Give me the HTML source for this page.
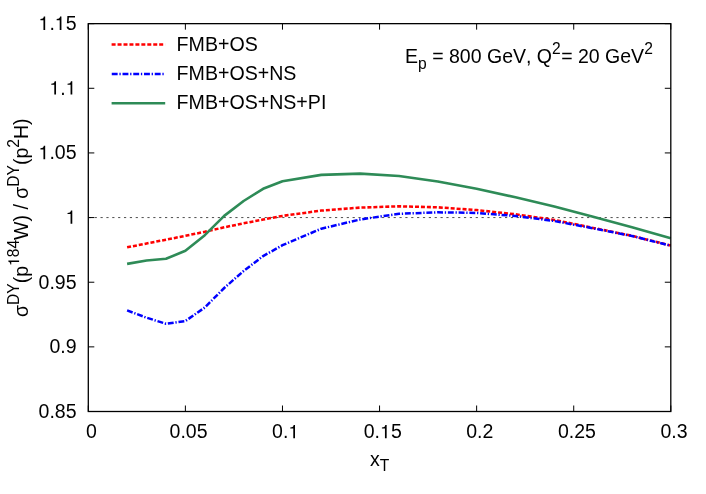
<!DOCTYPE html>
<html><head><meta charset="utf-8"><title>plot</title>
<style>
html,body{margin:0;padding:0;background:#fff;}
svg{display:block;will-change:transform;}
text{font-family:"Liberation Sans",sans-serif;fill:#000;font-kerning:none;white-space:pre;}
</style></head><body>
<svg width="706" height="494" viewBox="0 0 706 494">
<rect x="0" y="0" width="706" height="494" fill="#fff"/>
<line x1="88.3" y1="217.57" x2="670.8" y2="217.57" stroke="#000" stroke-width="0.7" stroke-dasharray="2.2 3.662" stroke-dashoffset="-0.5"/>
<line x1="88.30" y1="411.5" x2="88.30" y2="405.5" stroke="#000" stroke-width="1"/><line x1="88.30" y1="23.65" x2="88.30" y2="29.65" stroke="#000" stroke-width="1"/>
<line x1="88.3" y1="411.50" x2="94.3" y2="411.50" stroke="#000" stroke-width="1"/><line x1="670.8" y1="411.50" x2="664.8" y2="411.50" stroke="#000" stroke-width="1"/>
<line x1="185.38" y1="411.5" x2="185.38" y2="405.5" stroke="#000" stroke-width="1"/><line x1="185.38" y1="23.65" x2="185.38" y2="29.65" stroke="#000" stroke-width="1"/>
<line x1="88.3" y1="346.86" x2="94.3" y2="346.86" stroke="#000" stroke-width="1"/><line x1="670.8" y1="346.86" x2="664.8" y2="346.86" stroke="#000" stroke-width="1"/>
<line x1="282.47" y1="411.5" x2="282.47" y2="405.5" stroke="#000" stroke-width="1"/><line x1="282.47" y1="23.65" x2="282.47" y2="29.65" stroke="#000" stroke-width="1"/>
<line x1="88.3" y1="282.22" x2="94.3" y2="282.22" stroke="#000" stroke-width="1"/><line x1="670.8" y1="282.22" x2="664.8" y2="282.22" stroke="#000" stroke-width="1"/>
<line x1="379.55" y1="411.5" x2="379.55" y2="405.5" stroke="#000" stroke-width="1"/><line x1="379.55" y1="23.65" x2="379.55" y2="29.65" stroke="#000" stroke-width="1"/>
<line x1="88.3" y1="217.57" x2="94.3" y2="217.57" stroke="#000" stroke-width="1"/><line x1="670.8" y1="217.57" x2="664.8" y2="217.57" stroke="#000" stroke-width="1"/>
<line x1="476.63" y1="411.5" x2="476.63" y2="405.5" stroke="#000" stroke-width="1"/><line x1="476.63" y1="23.65" x2="476.63" y2="29.65" stroke="#000" stroke-width="1"/>
<line x1="88.3" y1="152.93" x2="94.3" y2="152.93" stroke="#000" stroke-width="1"/><line x1="670.8" y1="152.93" x2="664.8" y2="152.93" stroke="#000" stroke-width="1"/>
<line x1="573.72" y1="411.5" x2="573.72" y2="405.5" stroke="#000" stroke-width="1"/><line x1="573.72" y1="23.65" x2="573.72" y2="29.65" stroke="#000" stroke-width="1"/>
<line x1="88.3" y1="88.29" x2="94.3" y2="88.29" stroke="#000" stroke-width="1"/><line x1="670.8" y1="88.29" x2="664.8" y2="88.29" stroke="#000" stroke-width="1"/>
<line x1="670.80" y1="411.5" x2="670.80" y2="405.5" stroke="#000" stroke-width="1"/><line x1="670.80" y1="23.65" x2="670.80" y2="29.65" stroke="#000" stroke-width="1"/>
<line x1="88.3" y1="23.65" x2="94.3" y2="23.65" stroke="#000" stroke-width="1"/><line x1="670.8" y1="23.65" x2="664.8" y2="23.65" stroke="#000" stroke-width="1"/>
<text x="86.08" y="438.30" font-size="19.5">0</text>
<text x="169.61" y="438.30" font-size="19.5">0.05</text>
<text x="272.11" y="438.30" font-size="19.5">0.</text><path transform="translate(288.38,438.30) scale(0.01950,-0.01950)" d="M339.8 0H251.5V503H96V559C195 561 252 592 271 688H339.8Z" fill="#000"/>
<text x="363.77" y="438.30" font-size="19.5">0.</text><path transform="translate(380.04,438.30) scale(0.01950,-0.01950)" d="M339.8 0H251.5V503H96V559C195 561 252 592 271 688H339.8Z" fill="#000"/><text x="390.88" y="438.30" font-size="19.5">5</text>
<text x="466.28" y="438.30" font-size="19.5">0.2</text>
<text x="557.94" y="438.30" font-size="19.5">0.25</text>
<text x="660.45" y="438.30" font-size="19.5">0.3</text>
<text x="38.55" y="417.80" font-size="19.5">0.85</text>
<text x="49.39" y="353.16" font-size="19.5">0.9</text>
<text x="38.55" y="288.52" font-size="19.5">0.95</text>
<path transform="translate(65.66,223.87) scale(0.01950,-0.01950)" d="M339.8 0H251.5V503H96V559C195 561 252 592 271 688H339.8Z" fill="#000"/>
<path transform="translate(38.55,159.23) scale(0.01950,-0.01950)" d="M339.8 0H251.5V503H96V559C195 561 252 592 271 688H339.8Z" fill="#000"/><text x="49.39" y="159.23" font-size="19.5">.05</text>
<path transform="translate(49.39,94.59) scale(0.01950,-0.01950)" d="M339.8 0H251.5V503H96V559C195 561 252 592 271 688H339.8Z" fill="#000"/><text x="60.24" y="94.59" font-size="19.5">.</text><path transform="translate(65.66,94.59) scale(0.01950,-0.01950)" d="M339.8 0H251.5V503H96V559C195 561 252 592 271 688H339.8Z" fill="#000"/>
<path transform="translate(38.55,29.95) scale(0.01950,-0.01950)" d="M339.8 0H251.5V503H96V559C195 561 252 592 271 688H339.8Z" fill="#000"/><text x="49.39" y="29.95" font-size="19.5">.</text><path transform="translate(54.81,29.95) scale(0.01950,-0.01950)" d="M339.8 0H251.5V503H96V559C195 561 252 592 271 688H339.8Z" fill="#000"/><text x="65.66" y="29.95" font-size="19.5">5</text>
<polyline points="127.1,247.3 146.6,243.5 166.0,239.7 185.4,235.8 204.8,231.8 224.2,227.3 243.6,223.3 263.1,219.6 282.5,215.9 321.3,210.6 360.1,207.6 399.0,206.3 437.8,207.3 476.6,210.1 515.5,214.3 554.3,219.9 593.1,227.9 632.0,235.8 670.8,245.6" fill="none" stroke="#ff0000" stroke-width="2.55" stroke-dasharray="4 1.95" stroke-linejoin="round"/>
<polyline points="127.1,310.4 146.6,317.7 166.0,323.8 185.4,321.0 204.8,307.5 224.2,288.0 243.6,271.0 263.1,256.1 282.5,245.2 321.3,228.7 360.1,219.5 399.0,213.8 437.8,212.3 476.6,212.9 515.5,216.0 554.3,221.0 593.1,228.3 632.0,236.0 670.8,245.7" fill="none" stroke="#0000ff" stroke-width="2.5" stroke-dasharray="5.9 1.75 1.3 1.8" stroke-linejoin="round"/>
<polyline points="127.1,263.9 146.6,260.5 166.0,258.8 185.4,250.8 204.8,235.2 224.2,215.9 243.6,201.0 263.1,188.8 282.5,181.2 321.3,174.9 360.1,173.6 399.0,176.0 437.8,181.5 476.6,188.8 515.5,197.3 554.3,206.5 593.1,216.8 632.0,227.2 670.8,238.2" fill="none" stroke="#2e8b57" stroke-width="2.6" stroke-linejoin="round"/>
<line x1="111.6" y1="44.5" x2="165.2" y2="44.5" stroke="#ff0000" stroke-width="2.6" stroke-dasharray="4 1.95"/>
<line x1="111.75" y1="74.0" x2="165.2" y2="74.0" stroke="#0000ff" stroke-width="2.6" stroke-dasharray="5.9 1.75 1.3 1.8"/>
<line x1="111.6" y1="103.3" x2="165.2" y2="103.3" stroke="#2e8b57" stroke-width="2.6"/>
<text x="176.6" y="51" font-size="19.6">FMB+OS</text>
<text x="176.6" y="80.1" font-size="19.6">FMB+OS+NS</text>
<text x="176.6" y="109.1" font-size="19.6">FMB+OS+NS+PI</text>
<text x="405.1" y="62.5" font-size="19.5">E<tspan font-size="15.6" dy="6.6">p</tspan><tspan dy="-6.6"> = 800 GeV, Q</tspan><tspan font-size="15.6" dy="-8.7">2</tspan><tspan dy="8.7" dx="0.5">= 20 GeV</tspan><tspan font-size="15.6" dy="-8.7">2</tspan></text>
<g transform="translate(27.7,217.7) rotate(-90)"><text x="-99.26" y="0.00" font-size="19.5">σ</text><text x="-87.23" y="-8.60" font-size="15.6">DY</text><text x="-65.55" y="0.00" font-size="19.5">(p</text><path transform="translate(-48.22,-8.60) scale(0.01560,-0.01560)" d="M339.8 0H251.5V503H96V559C195 561 252 592 271 688H339.8Z" fill="#000"/><text x="-39.54" y="-8.60" font-size="15.6">84</text><text x="-22.19" y="0.00" font-size="19.5">W) / σ</text><text x="31.00" y="-8.60" font-size="15.6">DY</text><text x="52.67" y="0.00" font-size="19.5">(p</text><text x="70.01" y="-8.60" font-size="15.6">2</text><text x="78.68" y="0.00" font-size="19.5">H)</text></g>
<text x="370.1" y="465.8" font-size="19.5">x<tspan font-size="15.6" dy="5.4">T</tspan></text>
<rect x="88.3" y="23.65" width="582.50" height="387.85" fill="none" stroke="#000" stroke-width="1.3"/>
</svg>
</body></html>
